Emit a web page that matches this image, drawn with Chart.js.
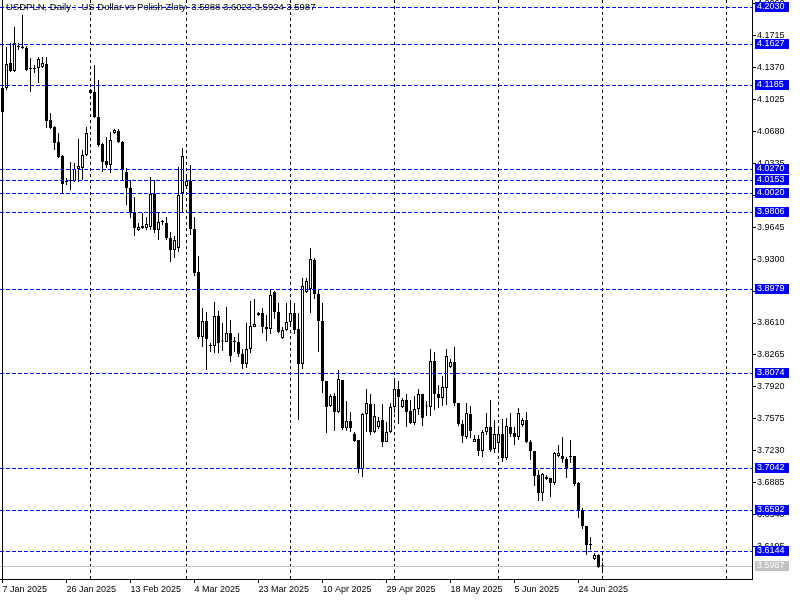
<!DOCTYPE html>
<html>
<head>
<meta charset="utf-8">
<script src="https://cdn.jsdelivr.net/npm/chart.js@4.4.1/dist/chart.umd.min.js"></script>
<style>
html,body{margin:0;padding:0;background:#fff;}
#wrap{width:800px;height:600px;position:relative;}
</style>
</head>
<body>
<div id="wrap"><canvas id="c" width="800" height="600"></canvas></div>
<script>
const titleText = "USDPLN, Daily :  US Dollar vs Polish Zloty  3.5988 3.6023 3.5924 3.5987";

const opens = [4.1150,4.1150,4.1420,4.1334,4.1593,4.1598,4.1585,4.1366,4.1355,4.1366,
4.1377,4.1409,4.0804,4.0728,4.0566,4.0415,4.0145,4.0145,4.0145,4.0275,
4.0285,4.0426,4.1128,4.1107,4.0837,4.0545,4.0361,4.0318,4.0664,4.0685,
4.0566,4.0242,4.0069,3.9799,3.9615,3.9637,3.9637,3.9648,4.0004,3.9615,
3.9702,3.9691,3.9529,3.9399,3.9421,4.0015,4.0091,4.0145,3.9626,3.9161,
3.8459,3.8632,3.8373,3.8362,3.8686,3.8416,3.8405,3.8502,3.8416,3.8405,
3.8275,3.8167,3.8329,3.8567,3.8718,3.8718,3.8567,3.8545,3.8945,3.8729,
3.8448,3.8535,3.8621,3.8718,3.8545,3.8167,3.8945,3.8978,3.9291,3.8924,
3.8632,3.7984,3.7713,3.7821,3.7648,3.7994,3.7475,3.7551,3.7411,3.7346,
3.7032,3.7627,3.7735,3.7432,3.7486,3.7562,3.7324,3.7432,3.7702,3.7897,
3.7702,3.7778,3.7659,3.7530,3.7681,3.7843,3.7713,3.7702,3.8200,3.7843,
3.7800,3.7908,3.8135,3.8189,3.7746,3.7519,3.7378,3.7627,3.7324,3.7357,
3.7227,3.7432,3.7486,3.7249,3.7313,3.7411,3.7151,3.7486,3.7421,3.7378,
3.7508,3.7562,3.7324,3.7227,3.6968,3.6773,3.6924,3.6935,3.6881,3.7173,
3.7173,3.7141,3.7162,3.7173,3.6881,3.6589,3.6416,3.6222,3.6060,3.6103,
3.5988];

const highs = [4.1182,4.1593,4.1636,4.1809,4.1636,4.1939,4.1604,4.1474,4.1399,4.1485,
4.1485,4.1485,4.0880,4.0739,4.0664,4.0426,4.0177,4.0350,4.0339,4.0599,
4.0480,4.0728,4.1139,4.1399,4.1236,4.0556,4.0620,4.0674,4.0707,4.0707,
4.0577,4.0285,4.0156,3.9972,3.9691,3.9799,3.9756,4.0188,4.0156,3.9799,
3.9723,3.9756,3.9594,3.9551,4.0296,4.0502,4.0188,4.0318,3.9756,3.9334,
3.8772,3.8729,3.8394,3.8837,3.8740,3.8610,3.8783,3.8643,3.8459,3.8502,
3.8329,3.8610,3.8848,3.8870,3.8729,3.8772,3.8697,3.8978,3.8956,3.8826,
3.8567,3.8826,3.8826,3.8826,3.8718,3.9097,3.9097,3.9421,3.9313,3.8978,
3.8826,3.7984,3.7843,3.7854,3.8102,3.7994,3.7767,3.7648,3.7432,3.7346,
3.7638,3.7897,3.7843,3.7735,3.7594,3.7735,3.7540,3.7746,3.8016,3.7984,
3.7800,3.7843,3.7778,3.7821,3.7897,3.7843,3.7767,3.8329,3.8297,3.7940,
3.8037,3.8329,3.8221,3.8351,3.7746,3.7562,3.7746,3.7713,3.7400,3.7400,
3.7454,3.7638,3.7778,3.7562,3.7465,3.7573,3.7584,3.7638,3.7486,3.7692,
3.7584,3.7648,3.7346,3.7227,3.7022,3.6989,3.6968,3.6935,3.7216,3.7292,
3.7378,3.7162,3.7346,3.7173,3.6892,3.6611,3.6416,3.6298,3.6125,3.6114,
3.6023];

const lows = [4.0891,4.1128,4.1323,4.1323,4.1561,4.1571,4.1334,4.1107,4.1312,4.1204,
4.1366,4.0718,4.0707,4.0480,4.0393,4.0015,4.0102,4.0048,4.0134,4.0134,
4.0156,4.0415,4.1085,4.0826,4.0512,4.0242,4.0285,4.0231,4.0653,4.0556,
4.0156,3.9886,3.9745,3.9551,3.9605,3.9626,3.9615,3.9615,3.9583,3.9507,
3.9669,3.9507,3.9270,3.9313,3.9378,3.9799,4.0080,3.9561,3.9118,3.8437,
3.8351,3.8102,3.8297,3.8286,3.8286,3.8308,3.8405,3.8189,3.8297,3.8243,
3.8113,3.8124,3.8286,3.8567,3.8686,3.8502,3.8416,3.8491,3.8654,3.8502,
3.8437,3.8524,3.8567,3.8491,3.7562,3.8113,3.8935,3.8718,3.8870,3.8297,
3.7854,3.7421,3.7702,3.7443,3.7638,3.7454,3.7443,3.7432,3.7324,3.6989,
3.6946,3.7432,3.7400,3.7421,3.7465,3.7270,3.7324,3.7421,3.7638,3.7519,
3.7692,3.7486,3.7519,3.7508,3.7616,3.7497,3.7605,3.7605,3.7670,3.7692,
3.7713,3.7724,3.8124,3.7713,3.7497,3.7313,3.7357,3.7367,3.7324,3.7173,
3.7162,3.7400,3.7216,3.7205,3.7205,3.7108,3.7130,3.7378,3.7292,3.7346,
3.7486,3.7313,3.7130,3.6849,3.6687,3.6687,3.6914,3.6730,3.6860,3.7162,
3.7097,3.6935,3.7097,3.6849,3.6503,3.6384,3.6103,3.6157,3.6049,3.5963,
3.5924];

const closes = [4.0891,4.1409,4.1334,4.1636,4.1598,4.1582,4.1345,4.1355,4.1366,4.1463,
4.1420,4.0793,4.0718,4.0556,4.0404,4.0112,4.0134,4.0156,4.0275,4.0307,
4.0426,4.0664,4.1096,4.0837,4.0534,4.0350,4.0318,4.0588,4.0696,4.0566,
4.0264,4.0069,3.9799,3.9637,3.9648,3.9659,3.9680,4.0004,3.9615,3.9702,
3.9713,3.9529,3.9399,3.9507,3.9994,4.0415,4.0145,3.9626,3.9151,3.8459,
3.8632,3.8437,3.8362,3.8686,3.8394,3.8410,3.8502,3.8254,3.8405,3.8275,
3.8167,3.8329,3.8578,3.8600,3.8697,3.8567,3.8545,3.8913,3.8729,3.8513,
3.8535,3.8621,3.8718,3.8535,3.8167,3.9010,3.9064,3.9302,3.8924,3.8632,
3.7984,3.7702,3.7821,3.7648,3.8005,3.7475,3.7551,3.7475,3.7335,3.7032,
3.7627,3.7746,3.7432,3.7605,3.7551,3.7324,3.7432,3.7702,3.7897,3.7811,
3.7778,3.7648,3.7530,3.7681,3.7843,3.7584,3.7708,3.8200,3.7843,3.7800,
3.7919,3.8254,3.8189,3.7746,3.7519,3.7389,3.7638,3.7443,3.7357,3.7227,
3.7432,3.7486,3.7238,3.7411,3.7411,3.7151,3.7497,3.7411,3.7378,3.7638,
3.7562,3.7324,3.7227,3.6957,3.6773,3.6978,3.6946,3.6881,3.7205,3.7205,
3.7141,3.7043,3.7162,3.6870,3.6589,3.6416,3.6211,3.6211,3.6103,3.5973,
3.5987];

const tickBars = [0,16,32,48,64,80,96,112,128,144];
const tickLabels = ["7 Jan 2025","26 Jan 2025","13 Feb 2025","4 Mar 2025","23 Mar 2025",
                    "10 Apr 2025","29 Apr 2025","18 May 2025","5 Jun 2025","24 Jun 2025"];
const monthGridBars = [22,46,72,98,124,150,181];
const priceTicks = [3.6195,3.6540,3.6885,3.7230,3.7575,3.7920,3.8265,3.8610,3.8955,
                    3.9300,3.9645,3.9990,4.0335,4.0680,4.1025,4.1370,4.1715,4.2060];
const levelLines = [4.2030,4.1627,4.1185,4.0270,4.0153,4.0020,3.9806,3.8979,3.8074,3.7042,3.6592,3.6144];
const bidPrice = 3.5987;
const priceMin = 3.58434;
const priceMax = 4.21008;
const barMin = -0.625;
const barMax = 187.375;

const FONT = '"Liberation Sans", Arial, sans-serif';
const idx = opens.map((_, i) => i);
const wickData = idx.map(i => ({x: i, y: [lows[i], highs[i]]}));
const bodyData = idx.map(i => ({x: i, y: [opens[i], closes[i]]}));
const bodyFill = idx.map(i => closes[i] >= opens[i] ? '#ffffff' : '#000000');

const overlay = {
  id: 'overlay',
  beforeDatasetsDraw(chart) {
    const {ctx, chartArea: a, scales: {x, y}} = chart;
    ctx.save();
    ctx.lineWidth = 1;
    ctx.strokeStyle = '#000000';
    ctx.setLineDash([3, 3]);
    monthGridBars.forEach(b => {
      const px = Math.floor(x.getPixelForValue(b)) + 0.5;
      ctx.beginPath(); ctx.moveTo(px, a.top); ctx.lineTo(px, a.bottom); ctx.stroke();
    });
    ctx.setLineDash([]);
    ctx.strokeStyle = '#c0c0c0';
    const by = Math.round(y.getPixelForValue(bidPrice)) + 0.5;
    ctx.beginPath(); ctx.moveTo(a.left, by); ctx.lineTo(a.right, by); ctx.stroke();
    ctx.restore();
  },
  afterDatasetsDraw(chart) {
    const {ctx, chartArea: a, scales: {y}} = chart;
    ctx.save();
    ctx.lineWidth = 1;
    ctx.strokeStyle = '#0000ff';
    ctx.setLineDash([4, 2]);
    levelLines.forEach(v => {
      const py = Math.round(y.getPixelForValue(v)) + 0.5;
      ctx.beginPath(); ctx.moveTo(a.left, py); ctx.lineTo(a.right, py); ctx.stroke();
    });
    ctx.restore();
  },
  afterDraw(chart) {
    const {ctx, chartArea: a, scales: {y}} = chart;
    ctx.save();
    ctx.font = '9px ' + FONT;
    ctx.textBaseline = 'middle';
    ctx.textAlign = 'left';
    levelLines.forEach(v => {
      const py = Math.round(y.getPixelForValue(v));
      ctx.fillStyle = '#0000ff';
      ctx.fillRect(a.right + 3, py - 5, 34, 10);
      ctx.fillStyle = '#ffffff';
      ctx.fillText(v.toFixed(4), a.right + 5, py);
    });
    const bpy = Math.round(y.getPixelForValue(bidPrice));
    ctx.fillStyle = '#c0c0c0';
    ctx.fillRect(a.right + 3, bpy - 5, 34, 10);
    ctx.fillStyle = '#ffffff';
    ctx.fillText(bidPrice.toFixed(4), a.right + 5, bpy);
    ctx.strokeStyle = '#000000';
    ctx.lineWidth = 1;
    ctx.beginPath(); ctx.moveTo(a.left + 2.5, a.top); ctx.lineTo(a.left + 2.5, a.bottom); ctx.stroke();
    ctx.font = '9.5px ' + FONT;
    ctx.fillStyle = '#000000';
    ctx.fillText(titleText, 6, 7);
    ctx.restore();
  }
};

new Chart(document.getElementById('c'), {
  type: 'bar',
  data: {
    datasets: [
      { label: 'body', data: bodyData, backgroundColor: bodyFill, borderColor: '#000000',
        borderWidth: 1, borderSkipped: false, barThickness: 3, maxBarThickness: 3,
        minBarLength: 1, grouped: false, order: 0, inflateAmount: 0 },
      { label: 'wick', data: wickData, backgroundColor: '#000000', borderWidth: 0,
        barThickness: 1, maxBarThickness: 1, minBarLength: 1, grouped: false, order: 1, inflateAmount: 0 }
    ]
  },
  options: {
    responsive: false,
    animation: false,
    devicePixelRatio: 1,
    layout: { padding: 0 },
    plugins: { legend: { display: false }, tooltip: { enabled: false }, title: { display: false } },
    scales: {
      x: {
        type: 'linear', min: barMin, max: barMax, offset: false, position: 'bottom',
        afterFit: s => { s.height = 21; s.paddingLeft = 0; s.paddingRight = 0; },
        afterBuildTicks: s => { s.ticks = tickBars.map(v => ({ value: v })); },
        ticks: { autoSkip: false, maxRotation: 0, minRotation: 0, align: 'start', padding: 1,
                 color: '#000000', font: { family: FONT, size: 9 },
                 callback: (v, i) => tickLabels[i] },
        grid: { offset: false, drawOnChartArea: false, drawTicks: true, tickLength: 4, color: '#000000' },
        border: { display: true, color: '#000000' }
      },
      y: {
        type: 'linear', position: 'right', min: priceMin, max: priceMax,
        afterFit: s => { s.width = 48; s.paddingTop = 0; s.paddingBottom = 0; },
        afterBuildTicks: s => { s.ticks = priceTicks.map(v => ({ value: v })); },
        ticks: { autoSkip: false, padding: 1, color: '#000000', font: { family: FONT, size: 9 },
                 callback: v => Number(v).toFixed(4) },
        grid: { drawOnChartArea: false, drawTicks: true, tickLength: 4, color: '#000000' },
        border: { display: true, color: '#000000' }
      }
    }
  },
  plugins: [overlay]
});
</script>
</body>
</html>
